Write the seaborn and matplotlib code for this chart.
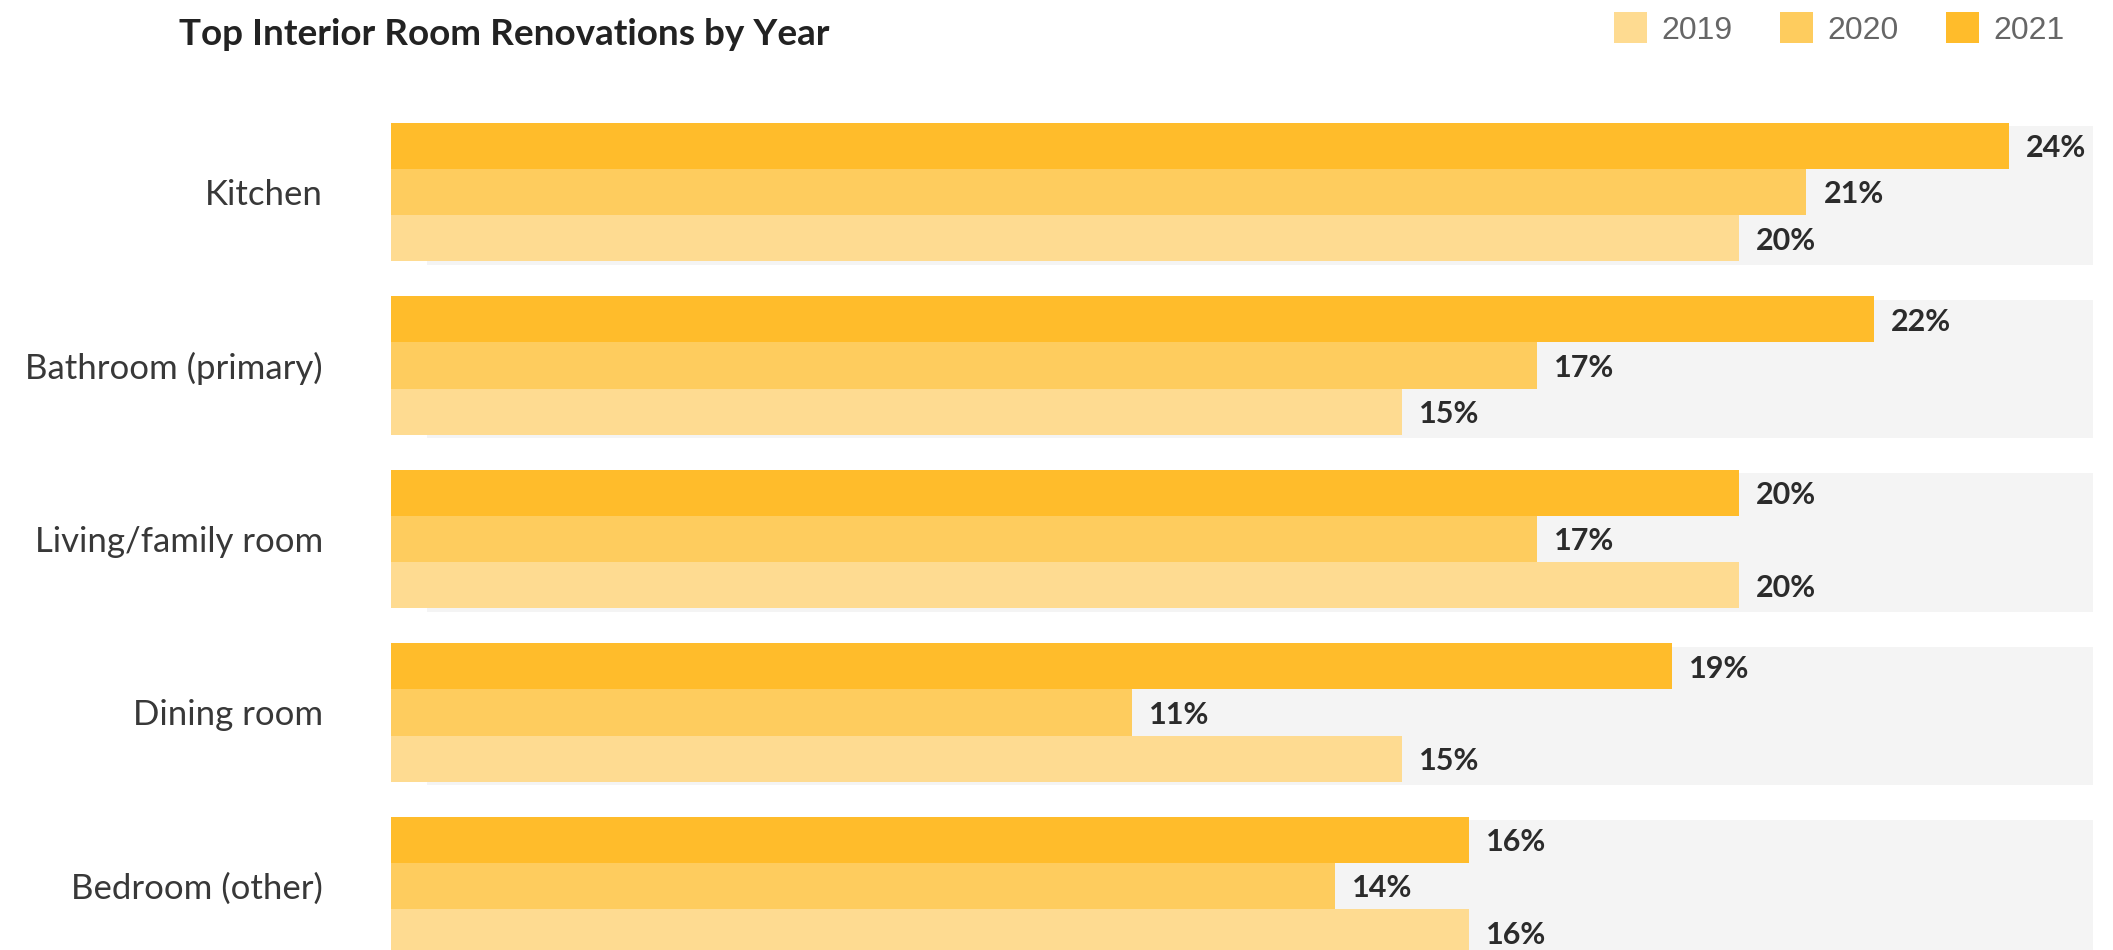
import matplotlib
matplotlib.use("Agg")
import matplotlib.pyplot as plt
from matplotlib.patches import Patch
import pandas as pd
import seaborn as sns

rooms = ["Kitchen", "Bathroom (primary)", "Living/family room", "Dining room", "Bedroom (other)"]
years = ["2019", "2020", "2021"]
share_2019 = [20, 15, 20, 15, 16]
share_2020 = [21, 17, 17, 11, 14]
share_2021 = [24, 22, 20, 19, 16]

colors = {"2019": "#FEDB91", "2020": "#FECC5E", "2021": "#FFBC2B"}

df = pd.DataFrame({
    "room": rooms * 3,
    "year": ["2019"] * 5 + ["2020"] * 5 + ["2021"] * 5,
    "share": share_2019 + share_2020 + share_2021,
})

sns.set_theme(style="white")
plt.rcParams["font.family"] = ["Lato", "DejaVu Sans"]

W, H = 2113, 950
fig = plt.figure(figsize=(W / 100, H / 100), dpi=100)

# axes frame in pixel terms
left_px, right_px = 391, 2093
top_px, bottom_px = 100, 950
ax = fig.add_axes([left_px / W, 1 - bottom_px / H, (right_px - left_px) / W, (bottom_px - top_px) / H])

px_per_unit = 67.4
xmax = (right_px - left_px) / px_per_unit
row_px = 173.5
first_center_px = 192

sns.barplot(data=df, y="room", x="share", hue="year", hue_order=["2021", "2020", "2019"],
            order=rooms, orient="h", palette=colors, width=0.8, linewidth=0,
            saturation=1, legend=False, ax=ax, zorder=2)

# light grey track behind each group
for i in range(len(rooms)):
    ax.barh(i + 0.02, xmax - 0.53, left=0.53, height=0.8, color="#F4F4F4", zorder=0, linewidth=0)

# value labels
width_each = 0.8 / 3
for j, (yr, vals) in enumerate([("2021", share_2021), ("2020", share_2020), ("2019", share_2019)]):
    for i, v in enumerate(vals):
        yc = i - 0.4 + width_each * (j + 0.5)
        ax.text(v + 17 / px_per_unit, yc, f"{v}%", va="center_baseline", ha="left",
                fontsize=22, fontweight="bold", color="#2B2B2B", zorder=3)

ax.set_xlim(0, xmax)
ax.set_ylim((bottom_px - first_center_px) / row_px, (top_px - first_center_px) / row_px)
ax.set_xlabel("")
ax.set_ylabel("")
ax.set_xticks([])
ax.tick_params(axis="y", length=0, pad=49)
for lbl in ax.get_yticklabels():
    lbl.set_fontsize(25)
    lbl.set_fontweight("normal")
    lbl.set_color("#383838")
for s in ax.spines.values():
    s.set_visible(False)

fig.text(179 / W, 1 - 45 / H, "Top Interior Room Renovations by Year", ha="left", va="baseline",
         fontsize=26.6, fontweight="bold", color="#222222")

handles = [Patch(facecolor=colors[y], edgecolor="none", label=y) for y in years]
leg = fig.legend(handles=handles, loc="upper left", bbox_to_anchor=(1592 / W, 1 + 10 / H),
                 ncol=3, frameon=False, handlelength=1.03, handleheight=1.1,
                 handletextpad=0.44, columnspacing=1.5, borderpad=0.2,
                 prop={"family": ["Liberation Sans", "DejaVu Sans"], "size": 23})
for t in leg.get_texts():
    t.set_color("#666666")

fig.savefig("out.png", dpi=100)
